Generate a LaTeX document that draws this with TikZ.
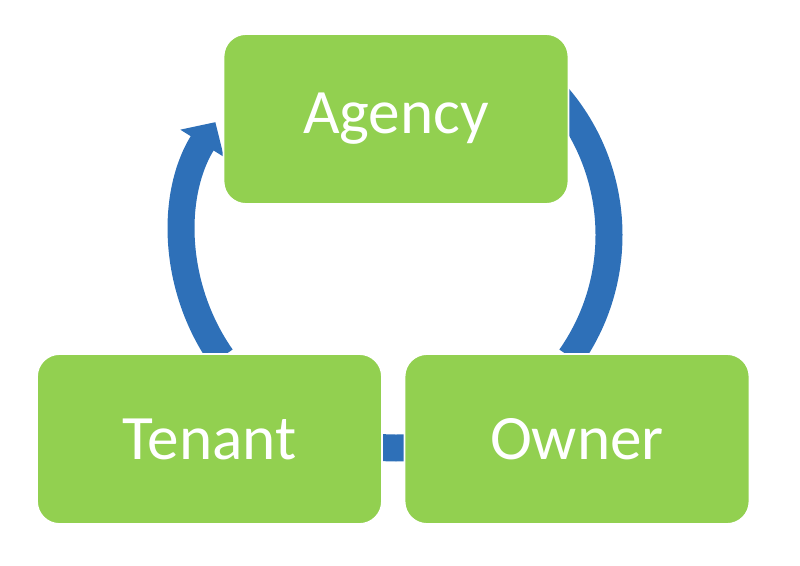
\documentclass[tikz,border=0pt]{standalone}
\usepackage{fontspec}
\setmainfont{Carlito}
\usetikzlibrary{arrows.meta}
\definecolor{boxgreen}{HTML}{92D050}
\definecolor{ringblue}{HTML}{2E70B8}
\tikzstyle{box}=[rectangle, rounded corners=0.45cm, fill=boxgreen, draw=white, line width=1pt, minimum width=6.9cm, minimum height=3.4cm, text=white, font=\fontsize{36}{42}\selectfont, inner sep=0pt]
\tikzstyle{ring}=[draw=ringblue, line width=0.54cm]

\begin{document}
\begin{tikzpicture}[x=0.02cm,y=0.02cm]
 \useasboundingbox (0,0) rectangle (800,565);
 \coordinate (O) at (396,330);

 % ring pieces
 \draw[ring,-{Triangle[width=1.0cm,length=0.5cm]}] ([shift={(215:213)}]O) arc (215:148:213);
 \draw[ring] ([shift={(45:213)}]O) arc (45:-35:213);
 \draw[ring] ([shift={(262:213)}]O) arc (262:278:213);

 \node[box] (agency) at (396,446) {Agency};
 \node[box] (tenant) at (209.5,126) {Tenant};
 \node[box] (owner) at (577,126) {Owner};
\end{tikzpicture}
\end{document}
